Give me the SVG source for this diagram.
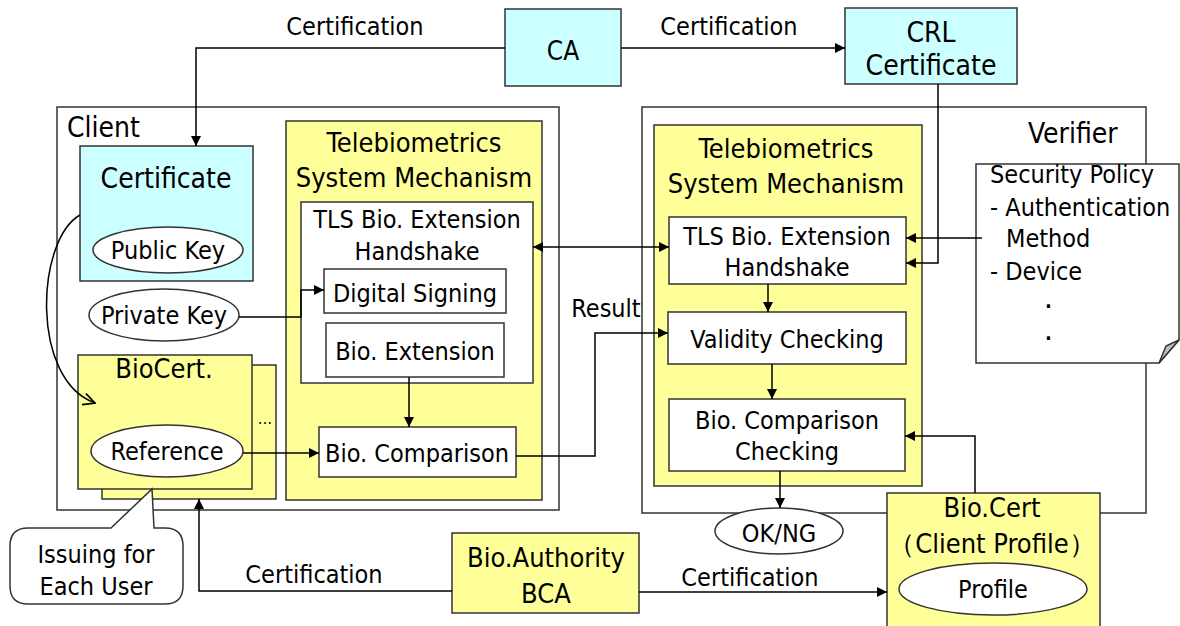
<svg xmlns="http://www.w3.org/2000/svg" width="1180" height="626" viewBox="0 0 1180 626">
<style>
text{font-family:"DejaVu Sans Condensed","DejaVu Sans",sans-serif;font-stretch:condensed;font-size:25px;fill:#000;text-anchor:middle}
.s{text-anchor:start}
.big{font-size:27px}
.xl{font-size:28px}
.dot{font-size:20px;font-weight:bold}
.box{stroke:#333;stroke-width:1.5}
.cy{fill:#CCFFFF}
.ye{fill:#FFFF99}
.wh{fill:#FFFFFF}
.fr{fill:none;stroke:#333;stroke-width:1.5}
.c{fill:none;stroke:#000;stroke-width:1.5}
</style>
<defs>
<marker id="a" viewBox="0 0 10 10" refX="10" refY="5" markerWidth="10" markerHeight="10" markerUnits="userSpaceOnUse" orient="auto-start-reverse"><path d="M0,0 L10,5 L0,10 Z" fill="#000"/></marker>
<marker id="o" viewBox="0 0 12 12" refX="11" refY="6" markerWidth="14" markerHeight="14" markerUnits="userSpaceOnUse" orient="auto"><path d="M1,1 L11,6 L1,11" fill="none" stroke="#000" stroke-width="1.5"/></marker>
</defs>

<g id="client">
<rect class="fr" x="57" y="107" width="502" height="403"/>
<text class="s xl" x="67" y="137">Client</text>
</g>
<g id="verifier">
<rect class="fr" x="642" y="107" width="504" height="406"/>
<text class="s xl" x="1028" y="143">Verifier</text>
</g>

<g id="ca">
<rect class="box cy" x="505" y="9" width="116" height="77"/>
<text x="563" y="60" style="font-size:26px">CA</text>
</g>
<g id="crl">
<rect class="box cy" x="845" y="8" width="172" height="76"/>
<text class="xl" x="931" y="42">CRL</text>
<text class="xl" x="931" y="75">Certificate</text>
</g>

<g id="certificate">
<rect class="box cy" x="80" y="146" width="173" height="135"/>
<text class="xl" x="166" y="188">Certificate</text>
</g>
<g id="public-key">
<ellipse class="box wh" cx="168" cy="250" rx="75" ry="23"/>
<text x="168" y="259">Public Key</text>
</g>
<g id="private-key">
<ellipse class="box wh" cx="164" cy="315" rx="75" ry="26"/>
<text x="164" y="324">Private Key</text>
</g>

<g id="biocert">
<rect class="box ye" x="102" y="365" width="174" height="134"/>
<text x="265" y="424" style="font-size:16px">…</text>
<rect class="box ye" x="78" y="355" width="174" height="134"/>
<text class="big" x="164" y="378">BioCert.</text>
</g>
<g id="reference">
<ellipse class="box wh" cx="167" cy="451" rx="76" ry="26"/>
<text x="167" y="460">Reference</text>
</g>

<g id="callout">
<path class="box wh" d="M28,528 L111,528 L152,489 L154,528 L165,528 Q183,528 183,546 L183,586 Q183,604 165,604 L28,604 Q10,604 10,586 L10,546 Q10,528 28,528 Z"/>
<text x="96" y="563">Issuing for</text>
<text x="96" y="595">Each User</text>
</g>

<g id="tsm-client">
<rect class="box ye" x="286" y="121" width="256" height="379"/>
<text class="big" x="414" y="152">Telebiometrics</text>
<text class="big" x="414" y="187">System Mechanism</text>
</g>
<g id="tls-client">
<rect class="box wh" x="301" y="202" width="232" height="181"/>
<text x="417" y="228">TLS Bio. Extension</text>
<text x="417" y="260">Handshake</text>
</g>
<g id="digital-signing">
<rect class="box wh" x="324" y="269" width="182" height="44"/>
<text x="415" y="302">Digital Signing</text>
</g>
<g id="bio-extension">
<rect class="box wh" x="326" y="323" width="178" height="54"/>
<text x="415" y="360">Bio. Extension</text>
</g>
<g id="bio-comparison">
<rect class="box wh" x="319" y="427" width="197" height="50"/>
<text x="417" y="462">Bio. Comparison</text>
</g>

<g id="tsm-verifier">
<rect class="box ye" x="654" y="125" width="268" height="361"/>
<text class="big" x="786" y="158">Telebiometrics</text>
<text class="big" x="786" y="193">System Mechanism</text>
</g>
<g id="tls-verifier">
<rect class="box wh" x="669" y="217" width="237" height="67"/>
<text x="787" y="245">TLS Bio. Extension</text>
<text x="787" y="276">Handshake</text>
</g>
<g id="validity">
<rect class="box wh" x="668" y="312" width="238" height="52"/>
<text x="787" y="348">Validity Checking</text>
</g>
<g id="bio-comparison-checking">
<rect class="box wh" x="669" y="399" width="236" height="72"/>
<text x="787" y="429">Bio. Comparison</text>
<text x="787" y="460">Checking</text>
</g>

<g id="security-policy">
<path class="box wh" d="M976,164 L1179,164 L1179,340 L1159,363 L976,363 Z"/>
<path class="box" fill="#C0C0C0" d="M1159,363 L1166,346 L1179,340 Z"/>
<text class="s" x="990" y="183">Security Policy</text>
<text class="s" x="990" y="216">- Authentication</text>
<text class="s" x="1006" y="247">Method</text>
<text class="s" x="990" y="280">- Device</text>
<text class="s dot" x="1045" y="308">.</text>
<text class="s dot" x="1045" y="340">.</text>
</g>

<g id="ok-ng">
<ellipse class="box wh" cx="779" cy="531" rx="64" ry="23"/>
<text x="779" y="542">OK/NG</text>
</g>

<g id="bio-cert-profile">
<rect class="box ye" x="887" y="493" width="213" height="140"/>
<text class="big" x="992" y="517">Bio.Cert</text>
<text class="big" x="992" y="553">（Client Profile）</text>
<ellipse class="box wh" cx="993" cy="589" rx="94" ry="26"/>
<text x="993" y="598">Profile</text>
</g>

<g id="bca">
<rect class="box ye" x="452" y="533" width="187" height="80"/>
<text class="big" x="546" y="567">Bio.Authority</text>
<text class="big" x="546" y="603">BCA</text>
</g>

<g id="connectors">
<path class="c" d="M505,48 H196 V146" marker-end="url(#a)"/>
<path class="c" d="M621,48 H845" marker-end="url(#a)"/>
<path class="c" d="M938,84 V263 H906" marker-end="url(#a)"/>
<path class="c" d="M982,238 H906" marker-end="url(#a)"/>
<path class="c" d="M533,247 H669" marker-start="url(#a)" marker-end="url(#a)"/>
<path class="c" d="M239,317 H301 V290 H324" marker-end="url(#a)"/>
<path class="c" d="M409,377 V427" marker-end="url(#a)"/>
<path class="c" d="M243,453 H319" marker-end="url(#a)"/>
<path class="c" d="M516,456 H595 V333 H668" marker-end="url(#a)"/>
<path class="c" d="M768,284 V312" marker-end="url(#a)"/>
<path class="c" d="M772,364 V399" marker-end="url(#a)"/>
<path class="c" d="M780,471 V508" marker-end="url(#a)"/>
<path class="c" d="M975,493 V436 H905" marker-end="url(#a)"/>
<path class="c" d="M639,592 H887" marker-end="url(#a)"/>
<path class="c" d="M452,591 H199 V499" marker-end="url(#a)"/>
<path class="c" d="M80,215 C36,240 30,380 95,403" marker-end="url(#o)"/>
<text x="355" y="35">Certification</text>
<text x="729" y="35">Certification</text>
<text x="606" y="317">Result</text>
<text x="314" y="583">Certification</text>
<text x="750" y="586">Certification</text>
</g>
</svg>
